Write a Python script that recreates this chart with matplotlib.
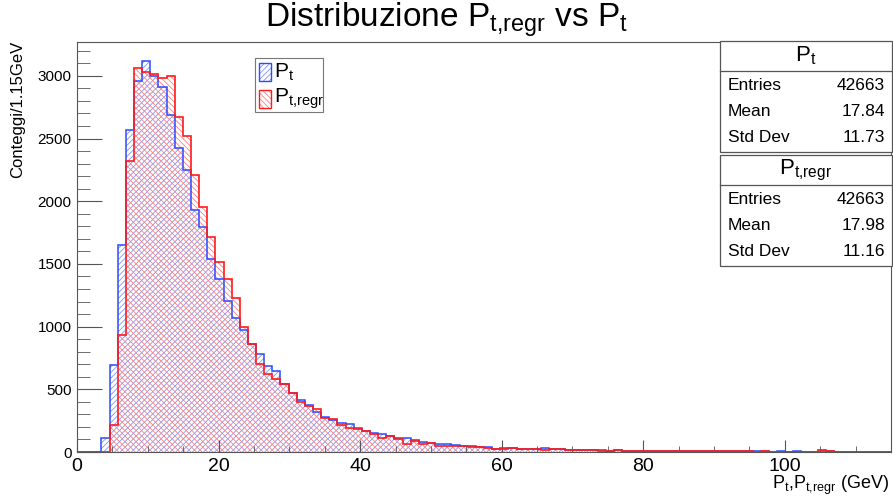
import numpy as np
import matplotlib
matplotlib.use('Agg')
import matplotlib.pyplot as plt
from matplotlib.patches import Rectangle

plt.rcParams['font.family'] = ['Liberation Sans', 'DejaVu Sans']
plt.rcParams['mathtext.fontset'] = 'custom'
plt.rcParams['mathtext.rm'] = 'Liberation Sans'
plt.rcParams['mathtext.it'] = 'Liberation Sans'
plt.rcParams['mathtext.default'] = 'rm'
plt.rcParams['hatch.linewidth'] = 0.6

# 100 bins of 1.15 GeV between 0 and 115 GeV
bin_edges = np.linspace(0, 115, 101)
pt_counts = [
    0, 0, 0, 110, 691, 1654, 2572, 2960, 3120, 3000,
    2912, 2691, 2426, 2253, 1928, 1795, 1537, 1383, 1202, 1072,
    971, 859, 779, 684, 644, 540, 471, 418, 372, 319,
    280, 252, 230, 222, 192, 165, 152, 142, 125, 115,
    115, 88, 80, 75, 67, 62, 53, 48, 40, 40,
    40, 27, 27, 32, 24, 24, 24, 29, 27, 24,
    19, 15, 13, 14, 12, 10, 15, 9, 10, 9,
    8, 7, 9, 6, 8, 6, 5, 7, 5, 6,
    5, 4, 6, 4, 5, 3, 4, 3, 4, 3,
    3, 8, 5, 3, 2, 2, 3, 2, 2, 1,
]
pt_regr_counts = [
    0, 0, 0, 0, 213, 936, 2319, 3059, 3027, 3011,
    2984, 2995, 2670, 2524, 2207, 1955, 1715, 1516, 1378, 1229,
    997, 859, 705, 625, 585, 540, 471, 400, 364, 340,
    274, 262, 213, 190, 187, 170, 147, 115, 125, 105,
    67, 93, 61, 75, 48, 48, 45, 48, 45, 40,
    32, 27, 35, 35, 24, 24, 22, 16, 22, 22,
    19, 14, 12, 13, 11, 10, 12, 8, 9, 8,
    7, 7, 8, 6, 6, 5, 5, 6, 4, 5,
    4, 4, 5, 3, 4, 3, 3, 3, 3, 2,
    2, 12, 8, 3, 2, 2, 2, 2, 1, 1,
]
stats_pt = [('Entries', '42663'), ('Mean', '17.84'), ('Std Dev', '11.73')]
stats_regr = [('Entries', '42663'), ('Mean', '17.98'), ('Std Dev', '11.16')]

centers = 0.5 * (bin_edges[:-1] + bin_edges[1:])
blue_line = '#2a4bff'
blue_hatch = '#7f95ff'
red_line = '#ff1a1a'
red_hatch = '#ff7f7f'
PT = r'P$_t$'
PTR = r'P$_{t{,}regr}$'

fig = plt.figure(figsize=(8.93, 5.0), dpi=100)
ax = fig.add_axes([77 / 893, 48 / 500, 814 / 893, 410 / 500])

# hatched fills then outlines
ax.hist(centers, bins=bin_edges, weights=pt_counts, histtype='stepfilled',
        facecolor='none', edgecolor=blue_hatch, hatch='//////', linewidth=0)
ax.hist(centers, bins=bin_edges, weights=pt_regr_counts, histtype='stepfilled',
        facecolor='none', edgecolor=red_hatch, hatch='\\\\\\\\\\\\', linewidth=0)
ax.hist(centers, bins=bin_edges, weights=pt_counts, histtype='step',
        color=blue_line, linewidth=1.1)
ax.hist(centers, bins=bin_edges, weights=pt_regr_counts, histtype='step',
        color=red_line, linewidth=1.2)

ax.set_xlim(0, 115)
ax.set_ylim(0, 3270)
ax.set_xticks([0, 20, 40, 60, 80, 100])
ax.set_xticks(np.arange(0, 115, 5), minor=True)
ax.set_yticks(np.arange(0, 3001, 500))
ax.set_yticks(np.arange(0, 3270, 100), minor=True)
ax.tick_params(axis='both', which='both', direction='in', color='#555555')
ax.tick_params(axis='x', which='major', length=9, labelsize=14, pad=4)
ax.tick_params(axis='x', which='minor', length=4.5)
ax.tick_params(axis='y', which='major', length=18, labelsize=11, pad=4)
ax.tick_params(axis='y', which='minor', length=9)
for s in ax.spines.values():
    s.set_color('#555555')
    s.set_linewidth(0.8)

fig.text(0.5, 1 - 20 / 500, 'Distribuzione ' + PTR + ' vs ' + PT, ha='center', va='center',
         fontsize=24)
fig.text(18 / 893, 1 - 41 / 500, 'Conteggi/1.15GeV', rotation=90, ha='center', va='top',
         fontsize=12)
fig.text(889 / 893, 1 - 485 / 500, PT + ',' + PTR + ' (GeV)', ha='right', va='center',
         fontsize=13)

# legend box
lx0, ly0, lx1, ly1 = 255, 58, 323, 112
fig.patches.append(Rectangle((lx0 / 893, 1 - ly1 / 500), (lx1 - lx0) / 893, (ly1 - ly0) / 500,
                             transform=fig.transFigure, facecolor='white',
                             edgecolor='#777777', linewidth=0.8))
for i, (lab, lc, hc, h) in enumerate([(PT, blue_line, blue_hatch, '//////'),
                                       (PTR, red_line, red_hatch, '\\\\\\\\\\\\')]):
    yc = 72 + i * 27
    fig.patches.append(Rectangle((259 / 893, 1 - (yc + 9) / 500), 12 / 893, 18 / 500,
                                 transform=fig.transFigure, facecolor='none',
                                 edgecolor=hc, hatch=h, linewidth=0))
    fig.patches.append(Rectangle((259 / 893, 1 - (yc + 9) / 500), 12 / 893, 18 / 500,
                                 transform=fig.transFigure, facecolor='none',
                                 edgecolor=lc, linewidth=1.0))
    fig.text(274 / 893, 1 - yc / 500, lab, ha='left', va='center', fontsize=15)

# stats boxes
def stats_box(top, title, rows):
    x0, x1 = 720, 892
    head_h, row_h = 30, 26
    bottom = top + head_h + row_h * len(rows) + 3
    fig.patches.append(Rectangle((x0 / 893, 1 - bottom / 500), (x1 - x0) / 893, (bottom - top) / 500,
                                 transform=fig.transFigure, facecolor='white',
                                 edgecolor='#555555', linewidth=0.9))
    fig.lines.append(plt.Line2D([x0 / 893, x1 / 893], [1 - (top + head_h) / 500] * 2,
                                transform=fig.transFigure, color='#555555', linewidth=0.9))
    fig.text((x0 + x1) / 2 / 893, 1 - (top + head_h / 2) / 500, title, ha='center',
             va='center', fontsize=16)
    for k, (name, val) in enumerate(rows):
        yc = top + head_h + row_h * (k + 0.5) + 2
        fig.text(728 / 893, 1 - yc / 500, name, ha='left', va='center', fontsize=12.5)
        fig.text(885 / 893, 1 - yc / 500, val, ha='right', va='center', fontsize=12.5)

stats_box(41, PT, stats_pt)
stats_box(155, PTR, stats_regr)

fig.savefig('out.png', dpi=100)
